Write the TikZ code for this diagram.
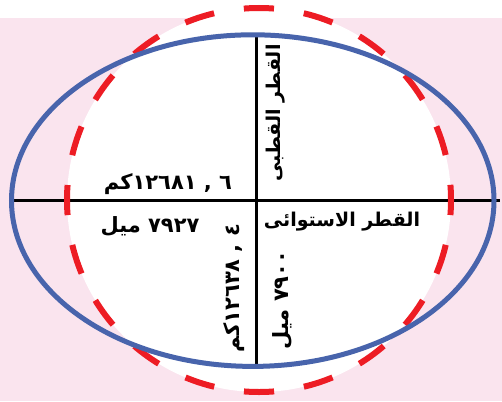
\documentclass[tikz,border=0pt]{standalone}
\usepackage{fontspec}
\newfontfamily\arabicfont[Script=Arabic]{DejaVu Sans}
\TeXXeTstate=1
\definecolor{bgpink}{RGB}{250,228,238}
\definecolor{eblue}{RGB}{72,100,172}
\definecolor{dred}{RGB}{237,28,36}
\begin{document}
\begin{tikzpicture}[x=1pt,y=-1pt,
  lbl/.style={inner sep=0pt,font=\arabicfont\bfseries\fontsize{19}{22}\selectfont},
  num/.style={inner sep=0pt,font=\arabicfont\bfseries\fontsize{21}{24}\selectfont},
  axis/.style={line width=3pt,black}]
\useasboundingbox (0,0) rectangle (502,401);
\fill[bgpink] (0,18) rectangle (502,401);
\fill[white] (259,200) circle[radius=192];
\coordinate (hl) at (12,200);
\coordinate (hr) at (500,200);
\coordinate (vt) at (256,36);
\coordinate (vb) at (256,364);
\draw[axis] (hl) -- (hr);
\draw[axis] (vt) -- (vb);
\draw[dred,line width=6pt,dash pattern=on 30.16pt off 30.16pt,dash phase=15.08pt] (259,200) circle[radius=192];
\draw[eblue,line width=5pt] (252.75,200.6) ellipse[x radius=241.25,y radius=165.8];
\node[lbl,rotate=90] (polar) at (276,113) {\beginR القطر القطبى\endR};
\node[lbl] (equat) at (342,222) {\beginR القطر الاستوائى\endR};
\node[num] (km1) at (168,184) {\beginR\beginL ١٢٦٨١ , ٦\endL كم\endR};
\node[num] (mi1) at (150,226) {\beginR\beginL ٧٩٢٧\endL{} ميل\endR};
\node[num,rotate=90] (km2) at (234,288) {\beginR\beginL ١٢٦٣٨ , ٤\endL كم\endR};
\node[num,rotate=90] (mi2) at (282,300) {\beginR\beginL ٧٩٠٠\endL{} ميل\endR};
\end{tikzpicture}
\end{document}
